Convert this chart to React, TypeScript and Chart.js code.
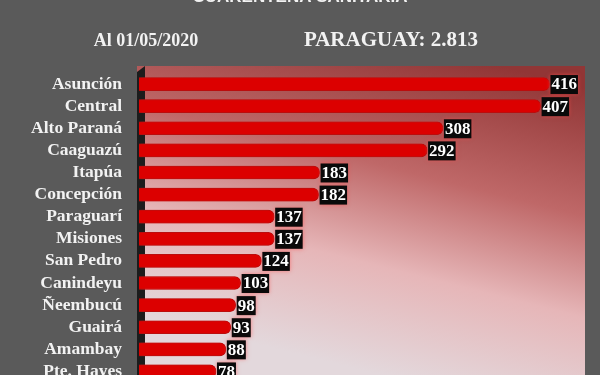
import React, { useEffect, useRef } from "react";
import { Chart, registerables } from "chart.js";

Chart.register(...registerables);

const categories = [
  "Asunción", "Central", "Alto Paraná", "Caaguazú", "Itapúa", "Concepción",
  "Paraguarí", "Misiones", "San Pedro", "Canindeyu", "Ñeembucú", "Guairá",
  "Amambay", "Pte. Hayes",
];
const values = [416, 407, 308, 292, 183, 182, 137, 137, 124, 103, 98, 93, 88, 78];
const topTitle = "CUARENTENA SANITARIA";
const dateLabel = "Al 01/05/2020";
const totalLabel = "PARAGUAY: 2.813";

const W = 600;
const H = 410;
const PLOT_LEFT = 137;
const PLOT_RIGHT = 585;
const PLOT_TOP = 66;

const decor = {
  id: "decor",
  beforeDraw(chart: any) {
    const ctx = chart.ctx;
    ctx.save();
    ctx.fillStyle = "#5a5a5a";
    ctx.fillRect(0, 0, W, H);
    const g = ctx.createLinearGradient(500, PLOT_TOP, 420, 385);
    g.addColorStop(0, "#913636");
    g.addColorStop(0.38, "#bf6868");
    g.addColorStop(0.68, "#e6b6b8");
    g.addColorStop(1, "#e3d8dc");
    ctx.fillStyle = g;
    ctx.fillRect(PLOT_LEFT, PLOT_TOP, PLOT_RIGHT - PLOT_LEFT, H - PLOT_TOP);
    // left 3D wall
    ctx.fillStyle = "#1c1c1c";
    ctx.beginPath();
    ctx.moveTo(PLOT_LEFT, 72);
    ctx.lineTo(145, PLOT_TOP);
    ctx.lineTo(145, H);
    ctx.lineTo(PLOT_LEFT, H);
    ctx.closePath();
    ctx.fill();
    // texts
    ctx.fillStyle = "#f2f2f2";
    ctx.textAlign = "center";
    ctx.textBaseline = "alphabetic";
    ctx.font = "bold 17px 'Liberation Sans', sans-serif";
    ctx.fillText(topTitle, 300, 2);
    ctx.font = "bold 18px 'Liberation Serif', serif";
    ctx.fillText(dateLabel, 146, 46);
    ctx.font = "bold 21px 'Liberation Serif', serif";
    ctx.fillText(totalLabel, 391, 46);
    ctx.restore();
  },
  beforeDatasetsDraw(chart: any) {
    const ctx = chart.ctx;
    ctx.save();
    ctx.shadowColor = "rgba(255,60,60,0.55)";
    ctx.shadowBlur = 4;
  },
  afterDatasetsDraw(chart: any) {
    const ctx = chart.ctx;
    ctx.restore();
    const meta = chart.getDatasetMeta(0);
    ctx.save();
    ctx.font = "bold 17px 'Liberation Serif', serif";
    ctx.textBaseline = "middle";
    ctx.textAlign = "left";
    meta.data.forEach((bar: any, i: number) => {
      const txt = String(values[i]);
      const tw = ctx.measureText(txt).width;
      const x = bar.x + 1;
      const y = bar.y;
      ctx.shadowColor = "rgba(255,70,70,0.6)";
      ctx.shadowBlur = 4;
      ctx.fillStyle = "#0a0a0a";
      ctx.fillRect(x, y - 9, tw + 2, 19);
      ctx.shadowBlur = 0;
      ctx.fillStyle = "#ffffff";
      ctx.fillText(txt, x + 1, y + 1);
    });
    ctx.restore();
  },
};

export default function App() {
  const ref = useRef<HTMLCanvasElement>(null);
  useEffect(() => {
    if (!ref.current) return;
    const chart = new Chart(ref.current, {
      type: "bar",
      data: {
        labels: categories,
        datasets: [
          {
            data: values,
            backgroundColor: "#dc0000",
            borderColor: "#a80000",
            borderWidth: 1,
            borderSkipped: "start",
            borderRadius: { topRight: 6, bottomRight: 6, topLeft: 0, bottomLeft: 0 },
            barThickness: 13,
          },
        ],
      },
      plugins: [decor],
      options: {
        indexAxis: "y",
        animation: false,
        responsive: false,
        maintainAspectRatio: false,
        layout: { padding: { top: 73, right: W - 583, bottom: 14, left: 0 } },
        plugins: {
          legend: { display: false },
          tooltip: { enabled: false },
          title: { display: false },
        },
        scales: {
          x: {
            display: false,
            min: 0,
            max: 450,
          },
          y: {
            grid: { display: false, drawTicks: false },
            border: { display: false },
            afterFit(scale: any) {
              scale.width = 139;
            },
            ticks: {
              autoSkip: false,
              color: "#f2f2f2",
              padding: 17,
              font: { family: "'Liberation Serif', serif", size: 17.5, weight: "bold" },
            },
          },
        },
      },
    });
    return () => chart.destroy();
  }, []);
  return (
    <div style={{ position: "absolute", left: 0, top: 0, width: W, height: 375, overflow: "hidden", background: "#5a5a5a" }}>
      <canvas ref={ref} width={W} height={H} style={{ width: W, height: H, display: "block" }} />
    </div>
  );
}
